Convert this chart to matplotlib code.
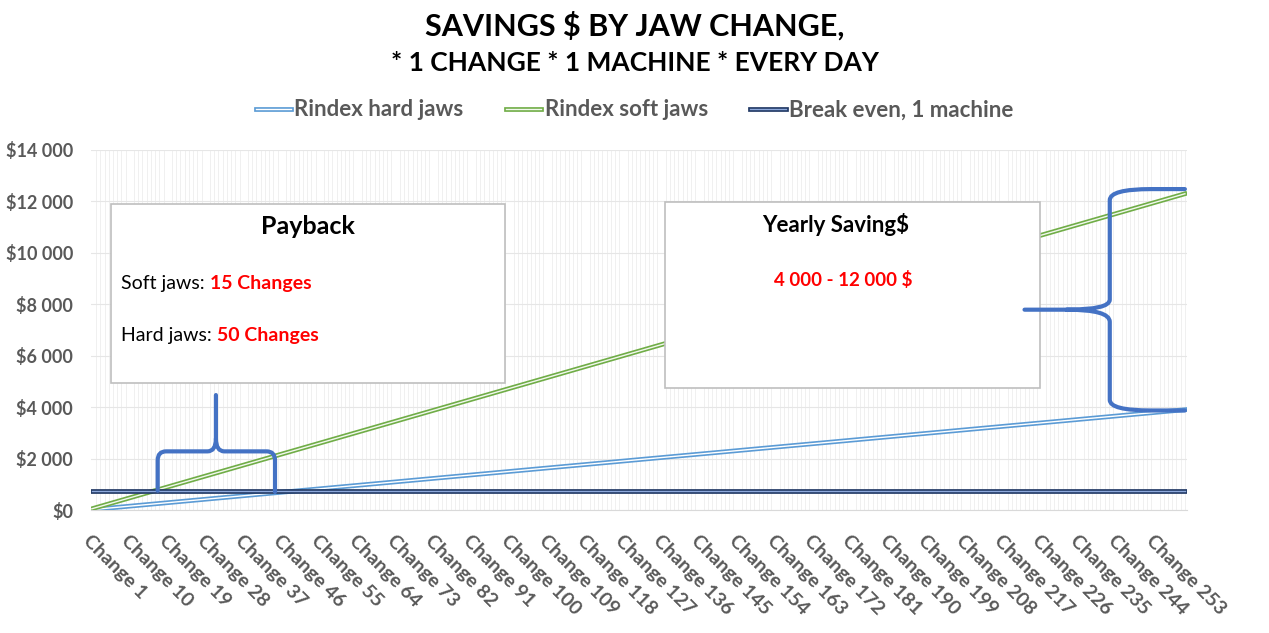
import numpy as np
import matplotlib
matplotlib.use('Agg')
import matplotlib.pyplot as plt
import matplotlib.patheffects as pe
from matplotlib.path import Path
from matplotlib.patches import PathPatch, Rectangle

plt.rcParams['font.family'] = ['Lato', 'DejaVu Sans']

# data
n_changes = 260
changes = np.arange(1, n_changes + 1)
labels = ['Change %d' % c for c in changes]
hard_per_change = 15.0      # $ saved per change, hard jaws
soft_per_change = 47.3      # $ saved per change, soft jaws
break_even = 750.0          # investment, 1 machine
hard_savings = np.cumsum(np.full(n_changes, hard_per_change))
soft_savings = np.cumsum(np.full(n_changes, soft_per_change))
break_even_line = np.full(n_changes, break_even)

W, H = 1269, 633
fig = plt.figure(figsize=(W / 100, H / 100), dpi=100)

def fx(px):
    return px / W

def fy(py):
    return 1 - py / H

ax = fig.add_axes([fx(91), fy(510), fx(1187) - fx(91), fy(150) - fy(510)])
ft = fig.transFigure

gray = '#595959'

# double lines (Excel "double" compound style)
def double(color, inner):
    return [pe.Stroke(linewidth=3.4, foreground=color), pe.Stroke(linewidth=1.0, foreground=inner)]

ax.plot(changes, hard_savings, color='#5B9BD5', lw=1, label='Rindex hard jaws',
        path_effects=double('#5B9BD5', '#FFFFFF'), zorder=3)
ax.plot(changes, soft_savings, color='#70AD47', lw=1, label='Rindex soft jaws',
        path_effects=double('#70AD47', '#F2F8EE'), zorder=3)
ax.plot(changes, break_even_line, color='#203864', lw=1, label='Break even, 1 machine',
        path_effects=double('#203864', '#8EA9DB'), zorder=3)

ax.set_xlim(0.8, n_changes + 0.5)
ax.set_ylim(0, 14000)
ax.set_yticks(np.arange(0, 14001, 2000))
ax.set_yticklabels(['$' + ('%d' % v if v < 1000 else '{:,}'.format(v).replace(',', ' ')) for v in range(0, 14001, 2000)],
                   fontsize=13, fontweight='bold', color=gray)
ax.set_xticks(changes[::9])
ax.set_xticklabels(labels[::9], rotation=-45, ha='left', va='top', rotation_mode='anchor',
                   fontsize=14, fontweight='bold', color=gray)
ax.set_xticks(changes, minor=True)
ax.tick_params(axis='both', which='both', length=0)
ax.tick_params(axis='x', pad=16)
ax.tick_params(axis='y', pad=13)
ax.grid(axis='y', which='major', color='#E6E6E6', lw=0.8)
ax.grid(axis='x', which='minor', color='#F0F0F0', lw=0.7)
ax.set_axisbelow(True)
for s in ['top', 'right', 'left']:
    ax.spines[s].set_visible(False)
ax.spines['bottom'].set_color('#D9D9D9')

# title
fig.text(0.5, fy(26), 'SAVINGS $ BY JAW CHANGE,', ha='center', va='center',
         fontsize=22, fontweight='bold', color='black')
fig.text(0.5, fy(63), '* 1 CHANGE * 1 MACHINE * EVERY DAY', ha='center', va='center',
         fontsize=19, fontweight='bold', color='black')

# legend
leg = fig.legend(loc='center', bbox_to_anchor=(0.5, fy(110)), ncol=3, frameon=False,
                 handlelength=1.6, handletextpad=0.15, columnspacing=1.9,
                 prop={'size': 16, 'weight': 'bold'})
for t in leg.get_texts():
    t.set_color(gray)

# text boxes (drawn in the axes so that braces and texts stay on top)
def box(x0, y0, x1, y1):
    ax.add_patch(Rectangle((fx(x0), fy(y1)), fx(x1) - fx(x0), fy(y0) - fy(y1),
                           transform=ft, facecolor='white', edgecolor='#BFBFBF',
                           lw=1.2, zorder=5, clip_on=False))

box(111, 204, 505, 383)
ax.text(fx(308), fy(227), 'Payback', transform=ft, ha='center', va='center', fontsize=18,
        fontweight='bold', color='black', zorder=6)
t1 = ax.text(fx(121), fy(283), 'Soft jaws: ', transform=ft, ha='left', va='center',
             fontsize=14, color='black', zorder=6)
ax.annotate('15 Changes', xy=(1, 0.5), xycoords=t1, va='center', ha='left',
            fontsize=14, fontweight='bold', color='red', zorder=6, annotation_clip=False)
t2 = ax.text(fx(121), fy(335), 'Hard jaws: ', transform=ft, ha='left', va='center',
             fontsize=14, color='black', zorder=6)
ax.annotate('50 Changes', xy=(1, 0.5), xycoords=t2, va='center', ha='left',
            fontsize=14, fontweight='bold', color='red', zorder=6, annotation_clip=False)

box(665, 202, 1040, 388)
ax.text(fx(836), fy(225), 'Yearly Saving$', transform=ft, ha='center', va='center', fontsize=16,
        fontweight='bold', color='black', zorder=6)
ax.text(fx(843), fy(280), '4 000 - 12 000 $', transform=ft, ha='center', va='center', fontsize=13.5,
        fontweight='bold', color='red', zorder=6)

# braces (data coordinates)
brace_color = '#4472C4'
M, L, C = Path.MOVETO, Path.LINETO, Path.CURVE3

# payback brace
nl, nr, nc = 16.6, 44.4, 30.4
ym, yt = 2280, 4470
verts = [(nl, break_even), (nl, ym - 350), (nl, ym), (nl + 2, ym), (nc - 2, ym), (nc, ym), (nc, ym + 500), (nc, yt),
         (nc, ym + 500), (nc, ym), (nc + 2, ym), (nr - 2, ym), (nr, ym), (nr, ym - 350), (nr, break_even - 50)]
codes = [M, L, C, C, L, C, C, L,
         M, C, C, L, C, C, L]
ax.add_patch(PathPatch(Path(verts, codes), facecolor='none', edgecolor=brace_color, lw=3,
                       capstyle='round', joinstyle='round', zorder=7, clip_on=False))

# yearly saving brace
bx = 242.2
verts = [(n_changes, 12480), (252, 12480), (bx, 12480), (bx, 12050), (bx, 8180), (bx, 7790), (232, 7790), (222, 7790),
         (232, 7790), (bx, 7790), (bx, 7320), (bx, 4280), (bx, 3870), (252, 3870), (n_changes, 3870)]
codes = [M, L, C, C, L, C, C, L,
         M, C, C, L, C, C, L]
ax.add_patch(PathPatch(Path(verts, codes), facecolor='none', edgecolor=brace_color, lw=3,
                       capstyle='round', joinstyle='round', zorder=7, clip_on=False))

fig.savefig('out.png', dpi=100, facecolor='white')
